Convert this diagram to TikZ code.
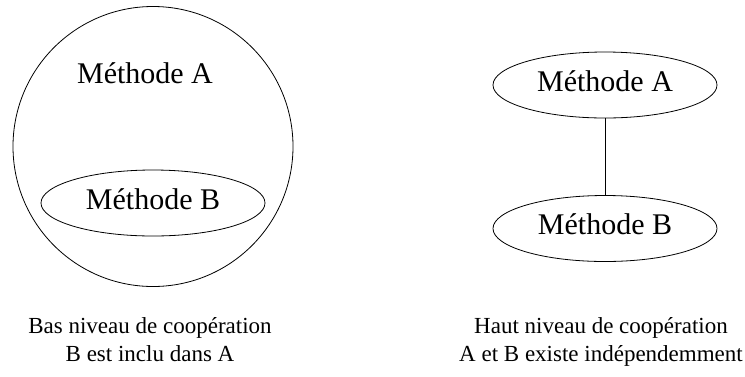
\documentclass[tikz,border=0pt]{standalone}
\usepackage{fontspec}
\setmainfont{Liberation Serif}
\usetikzlibrary{shapes.geometric}
\newcommand{\grande}{\fontsize{30bp}{35bp}\selectfont}
\newcommand{\petite}{\fontsize{23bp}{28bp}\selectfont}

\begin{document}
\begin{tikzpicture}[x=1bp,y=-1bp,line width=.8bp]
\tikzstyle{methode}=[draw, ellipse, inner sep=0pt, minimum width=224bp, minimum height=66bp, text height=20bp, text depth=8bp, font=\grande]
\tikzstyle{legende}=[anchor=base, font=\petite]
\useasboundingbox (0,0) rectangle (745,376);
% Bas niveau: B est dans A
\node (grandA) [draw, circle, minimum size=280bp, inner sep=0pt] at (153,146.5) {};
\node (titreA) [anchor=base, font=\grande] at (145,83) {Méthode A};
\node (inclB) [methode] at (153,203) {Méthode B};

% Haut niveau: A et B a part
\node (methA) [methode] at (605,85) {Méthode A};
\node (methB) [methode] at (605,228.5) {Méthode B};
\draw (methA) -- (methB);

% legendes
\node (legBas) [legende] at (150,333) {Bas niveau de coopération};
\node (legIncl) [legende] at (150,361) {B est inclu dans A};
\node (legHaut) [legende] at (601,333) {Haut niveau de coopération};
\node (legIndep) [legende] at (601,361) {A et B existe indépendemment};
\end{tikzpicture}
\end{document}
